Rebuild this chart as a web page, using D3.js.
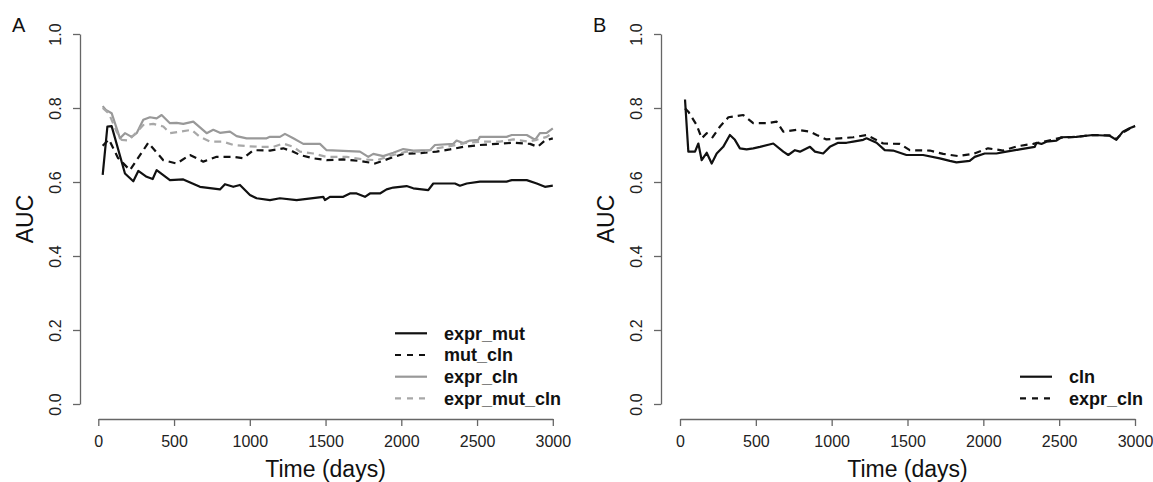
<!DOCTYPE html>
<html>
<head>
<meta charset="utf-8">
<script src="https://cdn.jsdelivr.net/npm/d3@7"></script>
<style>
  body { margin: 0; background: #fff; }
  svg { display: block; font-family: "Liberation Sans", Arial, sans-serif; }
</style>
</head>
<body>
<svg id="chart" width="1153" height="482"></svg>
<script>
// [time in days, AUC]
const exprMut = [[29,0.619],[60,0.750],[88,0.751],[176,0.623],[231,0.602],[264,0.630],[319,0.614],[359,0.608],[385,0.632],[473,0.605],[561,0.607],[671,0.587],[803,0.580],[836,0.594],[891,0.587],[935,0.592],[1001,0.565],[1045,0.556],[1133,0.551],[1199,0.556],[1309,0.551],[1485,0.560],[1496,0.551],[1529,0.560],[1617,0.560],[1661,0.569],[1705,0.569],[1760,0.560],[1793,0.569],[1859,0.569],[1903,0.580],[1947,0.585],[2035,0.589],[2079,0.583],[2178,0.578],[2211,0.596],[2354,0.596],[2387,0.590],[2432,0.596],[2519,0.601],[2695,0.601],[2729,0.605],[2828,0.605],[2894,0.596],[2948,0.587],[3000,0.590]];
const mutCln = [[29,0.698],[70,0.715],[130,0.665],[209,0.632],[330,0.706],[429,0.659],[517,0.650],[605,0.673],[693,0.655],[781,0.668],[891,0.668],[957,0.664],[1023,0.686],[1133,0.685],[1221,0.691],[1287,0.682],[1331,0.673],[1419,0.664],[1507,0.659],[1617,0.661],[1727,0.657],[1826,0.650],[1925,0.664],[2013,0.676],[2123,0.678],[2233,0.682],[2321,0.688],[2409,0.695],[2519,0.700],[2629,0.703],[2739,0.706],[2850,0.703],[2900,0.695],[2948,0.712],[3000,0.718]];
const exprClnA = [[29,0.805],[50,0.795],[88,0.786],[143,0.718],[176,0.732],[220,0.722],[253,0.732],[297,0.768],[341,0.775],[385,0.772],[418,0.781],[473,0.759],[517,0.760],[561,0.757],[627,0.763],[715,0.732],[759,0.741],[803,0.733],[869,0.736],[913,0.724],[979,0.718],[1111,0.718],[1133,0.722],[1199,0.722],[1232,0.730],[1287,0.718],[1353,0.703],[1463,0.703],[1507,0.686],[1727,0.682],[1782,0.668],[1815,0.676],[1881,0.670],[1947,0.679],[2013,0.689],[2079,0.685],[2189,0.686],[2222,0.700],[2343,0.703],[2365,0.712],[2409,0.705],[2453,0.712],[2508,0.714],[2519,0.722],[2695,0.722],[2729,0.727],[2828,0.727],[2883,0.714],[2915,0.732],[2960,0.733],[3000,0.745]];
const exprMutCln = [[29,0.800],[70,0.785],[121,0.736],[154,0.714],[200,0.712],[297,0.754],[363,0.757],[429,0.750],[473,0.732],[539,0.736],[616,0.741],[671,0.722],[737,0.709],[825,0.709],[891,0.700],[979,0.697],[1067,0.695],[1155,0.695],[1221,0.704],[1287,0.695],[1331,0.682],[1419,0.677],[1507,0.668],[1639,0.668],[1749,0.661],[1837,0.659],[1947,0.673],[2035,0.682],[2145,0.682],[2233,0.691],[2365,0.700],[2431,0.706],[2541,0.709],[2651,0.709],[2739,0.715],[2838,0.709],[2894,0.714],[2960,0.722],[3000,0.733]];
const cln = [[33,0.823],[55,0.682],[99,0.682],[121,0.704],[143,0.659],[176,0.679],[209,0.650],[242,0.677],[285,0.695],[329,0.727],[362,0.714],[395,0.691],[439,0.688],[483,0.691],[527,0.695],[615,0.704],[681,0.682],[714,0.673],[758,0.686],[791,0.682],[857,0.695],[890,0.682],[944,0.677],[988,0.695],[1043,0.706],[1098,0.706],[1142,0.709],[1208,0.714],[1230,0.718],[1296,0.706],[1350,0.686],[1405,0.685],[1493,0.673],[1603,0.673],[1713,0.664],[1779,0.657],[1823,0.653],[1910,0.657],[1943,0.668],[2009,0.677],[2086,0.677],[2152,0.682],[2240,0.688],[2339,0.695],[2350,0.706],[2383,0.703],[2416,0.709],[2482,0.712],[2515,0.721],[2613,0.722],[2723,0.727],[2833,0.725],[2877,0.714],[2920,0.736],[2964,0.745],[3000,0.751]];
const exprClnB = [[33,0.799],[55,0.790],[110,0.754],[143,0.718],[176,0.732],[215,0.721],[264,0.750],[319,0.775],[417,0.781],[483,0.759],[571,0.759],[637,0.763],[681,0.736],[769,0.741],[857,0.736],[901,0.727],[966,0.715],[1054,0.718],[1142,0.721],[1230,0.727],[1318,0.709],[1340,0.704],[1450,0.703],[1515,0.686],[1647,0.685],[1735,0.676],[1834,0.670],[1933,0.676],[2031,0.691],[2130,0.685],[2229,0.697],[2328,0.703],[2400,0.709],[2515,0.720],[2613,0.722],[2723,0.727],[2833,0.726],[2877,0.716],[2920,0.734],[2964,0.744],[3000,0.752]];

const xTicks = [0, 500, 1000, 1500, 2000, 2500, 3000];
const yTicks = [0, 0.2, 0.4, 0.6, 0.8, 1.0];

const svg = d3.select("#chart");

function drawPanel(p) {
  const x = d3.scaleLinear().domain([0, 3000]).range([p.x0, p.x1]);
  const y = d3.scaleLinear().domain([0, 1]).range([404, 34]);
  const g = svg.append("g");

  // y axis, R style: rotated labels
  const ya = g.append("g").attr("transform", `translate(${p.yAxisX},0)`)
    .call(d3.axisLeft(y).tickValues(yTicks).tickSize(7).tickSizeOuter(0).tickFormat(d3.format(".1f")));
  ya.selectAll("text").attr("x", null).attr("dy", null)
    .attr("text-anchor", "middle")
    .attr("transform", "translate(-19,0) rotate(-90)");

  g.append("g").attr("transform", "translate(0,419)")
    .call(d3.axisBottom(x).tickValues(xTicks).tickSize(7).tickSizeOuter(0).tickPadding(10).tickFormat(d3.format("d")));

  g.selectAll(".domain, .tick line").attr("stroke", "#666").attr("stroke-width", 1.3);
  g.selectAll(".tick text").attr("fill", "#222").attr("font-size", 16).attr("font-family", "Liberation Sans, Arial, sans-serif");

  const line = d3.line().x(d => x(d[0])).y(d => y(d[1]));
  p.series.forEach(s => {
    g.append("path").datum(s.data)
      .attr("d", line)
      .attr("fill", "none")
      .attr("stroke", s.color)
      .attr("stroke-width", 2.2)
      .attr("stroke-linejoin", "round")
      .attr("stroke-dasharray", s.dash ? "7,5" : null);
  });

  // legend
  p.series.forEach((s, i) => {
    const ly = p.legY + i * 21.7;
    g.append("line").attr("x1", p.legX).attr("x2", p.legX + 32).attr("y1", ly).attr("y2", ly)
      .attr("stroke", s.color).attr("stroke-width", 2.2)
      .attr("stroke-dasharray", s.dash ? "6,6" : null);
    g.append("text").attr("x", p.legX + 49).attr("y", ly).attr("dy", "0.35em")
      .attr("fill", "#111").attr("font-size", 18).attr("font-weight", "bold")
      .text(s.name);
  });

  g.append("text").attr("x", (p.x0 + p.x1) / 2).attr("y", 477)
    .attr("text-anchor", "middle").attr("fill", "#111").attr("font-size", 23)
    .text("Time (days)");
  g.append("text").attr("transform", `translate(${p.yAxisX - 47},219) rotate(-90)`)
    .attr("text-anchor", "middle").attr("fill", "#111").attr("font-size", 23)
    .text("AUC");
  g.append("text").attr("x", p.yAxisX - 68).attr("y", 32)
    .attr("fill", "#111").attr("font-size", 20).text(p.letter);
}

drawPanel({
  letter: "A", yAxisX: 80, x0: 98.3, x1: 552.8, legX: 395, legY: 333.3,
  series: [
    { name: "expr_mut", data: exprMut, color: "#111", dash: false },
    { name: "mut_cln", data: mutCln, color: "#111", dash: true },
    { name: "expr_cln", data: exprClnA, color: "#999", dash: false },
    { name: "expr_mut_cln", data: exprMutCln, color: "#a8a8a8", dash: true }
  ]
});

drawPanel({
  letter: "B", yAxisX: 661, x0: 680, x1: 1135, legX: 1020, legY: 376.7,
  series: [
    { name: "cln", data: cln, color: "#111", dash: false },
    { name: "expr_cln", data: exprClnB, color: "#111", dash: true }
  ]
});
</script>
</body>
</html>
